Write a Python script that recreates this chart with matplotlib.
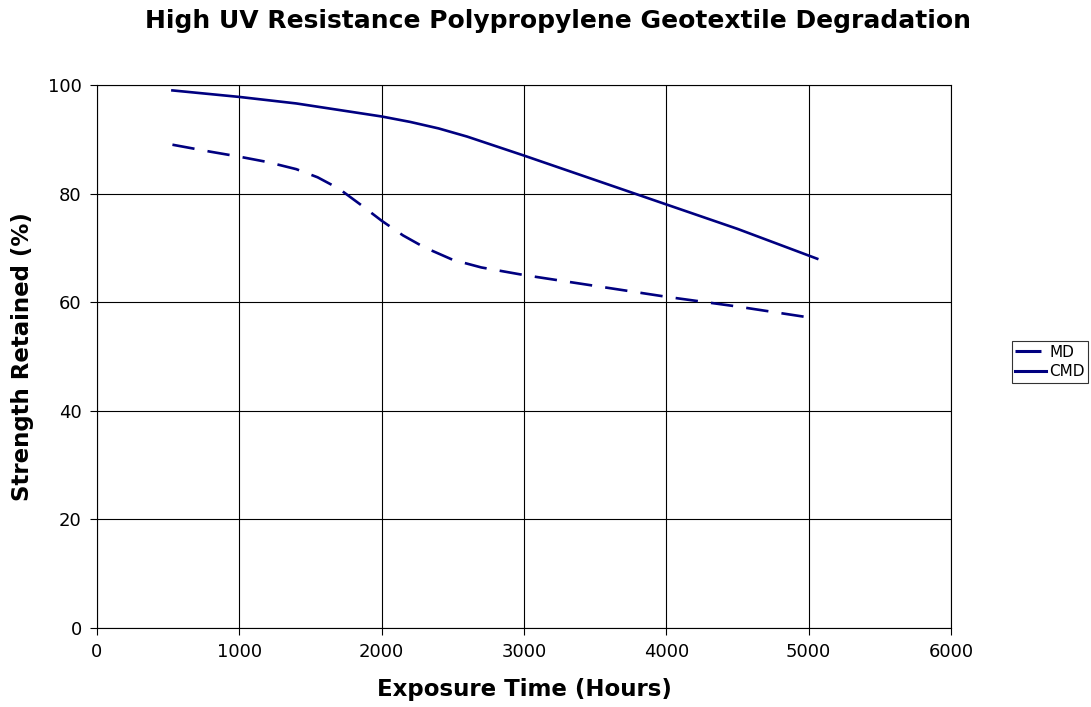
import matplotlib.pyplot as plt

hours_md = [530, 800, 1000, 1200, 1400, 1550, 1700, 1850, 2000, 2150, 2300, 2500, 2700, 3000, 3500, 4000, 4500, 4975]
md = [89.0, 87.7, 86.8, 85.8, 84.5, 83.0, 80.9, 78.0, 75.0, 72.3, 70.1, 67.8, 66.4, 65.0, 63.0, 61.0, 59.2, 57.3]

hours_cmd = [530, 1000, 1400, 1700, 2000, 2200, 2400, 2600, 3000, 3500, 4000, 4500, 5060]
cmd = [99.0, 97.8, 96.6, 95.4, 94.2, 93.2, 92.0, 90.5, 87.0, 82.5, 78.0, 73.5, 68.0]

x_ticks = [0, 1000, 2000, 3000, 4000, 5000, 6000]
y_ticks = [0, 20, 40, 60, 80, 100]

navy = "#000080"

fig = plt.figure(figsize=(10.91, 7.07), dpi=100)
ax = fig.add_axes([0.0889, 0.1117, 0.7828, 0.7681])

ax.plot(hours_md, md, color=navy, lw=1.9, dashes=(8.5, 5), label="MD")
ax.plot(hours_cmd, cmd, color=navy, lw=1.9, label="CMD")

ax.set_xlim(0, 6000)
ax.set_ylim(0, 100)
ax.set_xticks(x_ticks)
ax.set_yticks(y_ticks)
ax.grid(True, color="black", lw=0.8)
ax.set_axisbelow(True)
for side in ["left", "bottom", "top", "right"]:
    ax.spines[side].set_color("black")
    ax.spines[side].set_linewidth(0.8)
ax.tick_params(direction="out", length=5, width=0.8, labelsize=13, pad=6)

ax.set_xlabel("Exposure Time (Hours)", fontsize=16.5, fontweight="bold", labelpad=12)
ax.set_ylabel("Strength Retained (%)", fontsize=16.5, fontweight="bold", labelpad=10)
fig.text(0.511, 1 - 21 / 707, "High UV Resistance Polypropylene Geotextile Degradation",
         ha="center", va="center", fontsize=18, fontweight="bold")

leg = ax.legend(loc="center left", bbox_to_anchor=(1.071, 0.49), fontsize=11,
                frameon=True, fancybox=False, edgecolor="black", borderpad=0.25,
                handlelength=2.0, handletextpad=0.2, labelspacing=0.3, borderaxespad=0)
leg.get_frame().set_linewidth(0.8)
for line in leg.get_lines():
    line.set_linewidth(2.2)

fig.savefig("out.png", dpi=100)
